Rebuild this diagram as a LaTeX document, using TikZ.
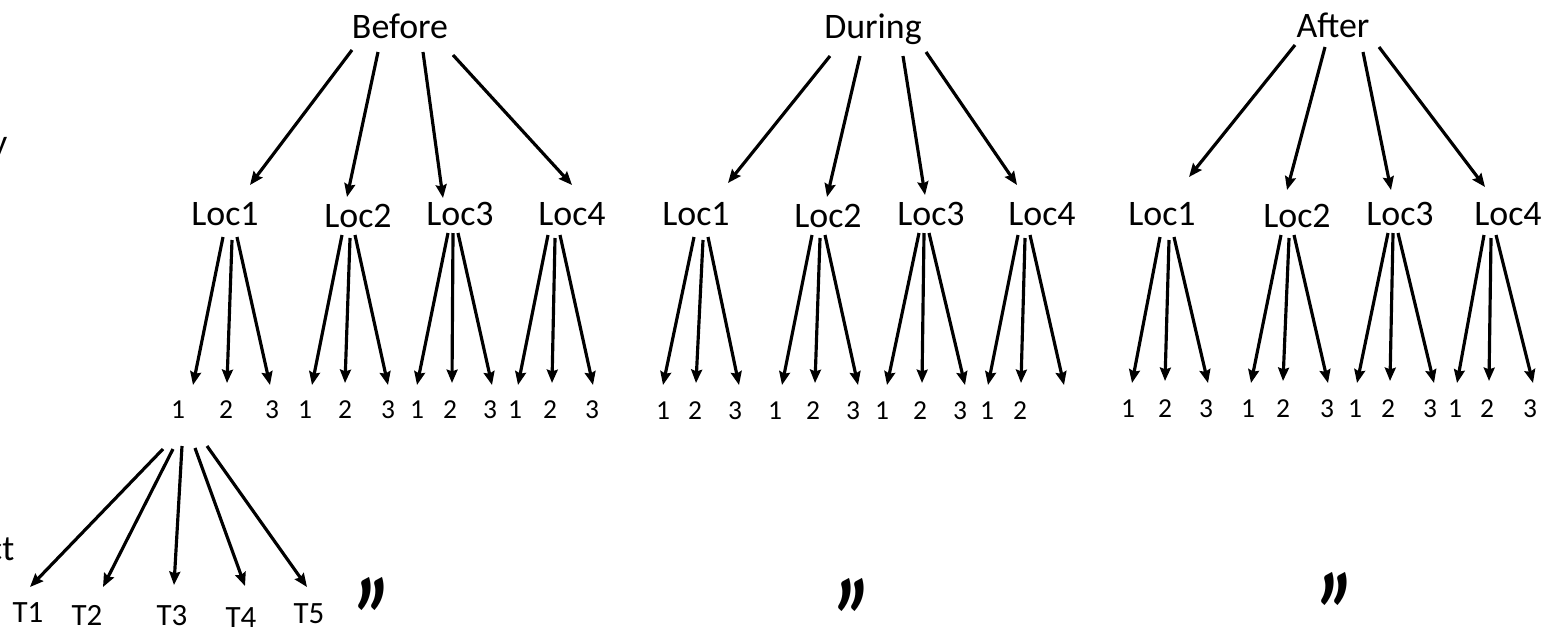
\documentclass[tikz,border=0pt]{standalone}
\usepackage{fontspec}
\setmainfont{Carlito}
\usetikzlibrary{calc,arrows.meta}
% arrow from a point offset from one node to a point offset from another
\newcommand\link[4]{\draw[arr] ($(#1)+(#2)$) -- ($(#3)+(#4)$);}
% closing quote whose box hugs its ink
\newcommand\dittomark{\raisebox{-0.42em}[0.27em][0pt]{”}}

\begin{document}
\begin{tikzpicture}[x=0.01cm,y=-0.01cm,
  arr/.style={line width=0.9pt,-{Stealth[length=3.8pt,width=3.1pt,inset=0.5pt]}},
  head/.style={inner sep=0pt,anchor=base,font=\fontsize{10.2}{12}\selectfont},
  loc/.style={head},
  num/.style={inner sep=0pt,anchor=base,font=\fontsize{7.8}{9}\selectfont},
  leaf/.style={inner sep=0pt,anchor=base,font=\fontsize{8.8}{10}\selectfont},
  ditto/.style={inner sep=0pt,anchor=center,
    font=\fontsize{34}{34}\bfseries\itshape\selectfont,xscale=0.68}]
\useasboundingbox (0,0) rectangle (1555,633);
\clip (0,0) rectangle (1555,633);

% fragments at the left margin
\node[head,anchor=base east] (fy) at (8,154) {y};
\node[head,anchor=base east] (fct) at (15,560) {ct};

% phase headers
\node[head] (bef) at (400,38) {Before};
\node[head] (dur) at (873,38) {During};
\node[head] (aft) at (1333,37) {After};

% locations
\node[loc] (b1) at (225,225) {Loc1};
\node[loc] (b2) at (358,227) {Loc2};
\node[loc] (b3) at (460,225) {Loc3};
\node[loc] (b4) at (572,225) {Loc4};
\node[loc] (d1) at (696,225) {Loc1};
\node[loc] (d2) at (828,227) {Loc2};
\node[loc] (d3) at (931,225) {Loc3};
\node[loc] (d4) at (1042,225) {Loc4};
\node[loc] (a1) at (1162,225) {Loc1};
\node[loc] (a2) at (1297,227) {Loc2};
\node[loc] (a3) at (1400,225) {Loc3};
\node[loc] (a4) at (1508,225) {Loc4};

% replicate numbers
\foreach \n/\x/\t in {b11/178/1,b12/226/2,b13/272/3,b21/305/1,b22/345/2,b23/388/3,
                     b31/417/1,b32/450/2,b33/490/3,b41/515/1,b42/550/2,b43/592/3}
  \node[num] (\n) at (\x,418) {\t};
\foreach \n/\x/\t in {d11/663/1,d12/695/2,d13/735/3,d21/775/1,d22/813/2,d23/853/3,
                     d31/882/1,d32/920/2,d33/960/3,d41/987/1,d42/1020/2}
  \node[num] (\n) at (\x,419) {\t};
\coordinate (d43) at (1064,419);
\foreach \n/\x/\t in {a11/1128/1,a12/1165/2,a13/1206/3,a21/1248/1,a22/1283/2,a23/1327/3,
                     a31/1355/1,a32/1388/2,a33/1430/3,a41/1455/1,a42/1487/2,a43/1530/3}
  \node[num] (\n) at (\x,417) {\t};

% time points
\node[leaf] (t1) at (28,622) {T1};
\node[leaf] (t2) at (87,625) {T2};
\node[leaf] (t3) at (172,625) {T3};
\node[leaf] (t4) at (241,627) {T4};
\node[leaf] (t5) at (309,623) {T5};

% ditto marks
\node[ditto] (q1) at (375,597) {\dittomark};
\node[ditto] (q2) at (855,598) {\dittomark};
\node[ditto] (q3) at (1338,592) {\dittomark};

% header -> locations
\link{bef.base}{-48,12}{b1.base}{25,-40}
\link{bef.base}{-22,14}{b2.base}{-11,-30}
\link{bef.base}{23,14}{b3.base}{-17,-27}
\link{bef.base}{53,17}{b4.base}{0,-40}
\link{dur.base}{-43,18}{d1.base}{32,-42}
\link{dur.base}{-13,18}{d2.base}{-1,-30}
\link{dur.base}{30,18}{d3.base}{-6,-30}
\link{dur.base}{53,14}{d4.base}{-25,-40}
\link{aft.base}{-38,8}{a1.base}{27,-48}
\link{aft.base}{-8,10}{a2.base}{-10,-37}
\link{aft.base}{30,15}{a3.base}{-9,-35}
\link{aft.base}{46,10}{a4.base}{-23,-38}

% locations -> numbers
\link{b1.base}{-2,12}{b11.base}{15,-33}
\link{b1.base}{7,15}{b12.base}{1,-35}
\link{b1.base}{12,12}{b13.base}{-2,-33}
\link{b2.base}{-16,8}{b21.base}{7,-33}
\link{b2.base}{-8,11}{b22.base}{0,-35}
\link{b2.base}{-3,8}{b23.base}{0,-33}
\link{b3.base}{-12,8}{b31.base}{0,-33}
\link{b3.base}{-7,8}{b32.base}{2,-35}
\link{b3.base}{-2,8}{b33.base}{2,-33}
\link{b4.base}{-24,10}{b41.base}{3,-33}
\link{b4.base}{-17,13}{b42.base}{2,-35}
\link{b4.base}{-12,10}{b43.base}{1,-33}

\link{d1.base}{-2,12}{d11.base}{0,-34}
\link{d1.base}{7,15}{d12.base}{1,-36}
\link{d1.base}{12,12}{d13.base}{4,-34}
\link{d2.base}{-16,8}{d21.base}{7,-34}
\link{d2.base}{-8,11}{d22.base}{2,-36}
\link{d2.base}{-3,8}{d23.base}{5,-34}
\link{d3.base}{-12,8}{d31.base}{5,-34}
\link{d3.base}{-7,8}{d32.base}{2,-36}
\link{d3.base}{-2,8}{d33.base}{5,-34}
\link{d4.base}{-24,10}{d41.base}{1,-34}
\link{d4.base}{-17,13}{d42.base}{1,-36}
\link{d4.base}{-12,10}{d43}{0,-34}

\link{a1.base}{-2,12}{a11.base}{4,-34}
\link{a1.base}{7,15}{a12.base}{0,-36}
\link{a1.base}{12,12}{a13.base}{2,-34}
\link{a2.base}{-16,8}{a21.base}{3,-34}
\link{a2.base}{-8,11}{a22.base}{0,-36}
\link{a2.base}{-3,8}{a23.base}{1,-34}
\link{a3.base}{-12,8}{a31.base}{2,-34}
\link{a3.base}{-7,8}{a32.base}{2,-36}
\link{a3.base}{-2,8}{a33.base}{4,-34}
\link{a4.base}{-24,10}{a41.base}{2,-34}
\link{a4.base}{-17,13}{a42.base}{2,-36}
\link{a4.base}{-12,10}{a43.base}{3,-34}

% first number -> time points
\link{b11.base}{-15,31}{t1.base}{2,-35}
\link{b11.base}{-5,31}{t2.base}{16,-38}
\link{b11.base}{4,28}{t3.base}{2,-40}
\link{b11.base}{17,30}{t4.base}{4,-41}
\link{b11.base}{29,28}{t5.base}{-2,-36}
\end{tikzpicture}
\end{document}
